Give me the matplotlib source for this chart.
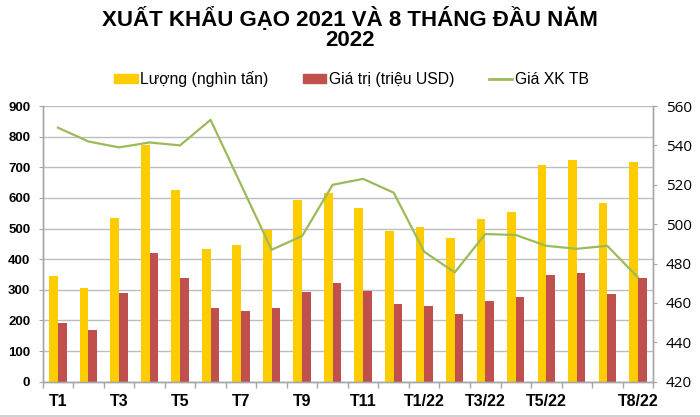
import numpy as np
import matplotlib
matplotlib.use("Agg")
import matplotlib.pyplot as plt
from matplotlib.patches import Patch
from matplotlib.lines import Line2D

# dữ liệu
months = ["T1", "T2", "T3", "T4", "T5", "T6", "T7", "T8", "T9", "T10",
          "T11", "T12", "T1/22", "T2/22", "T3/22", "T4/22", "T5/22",
          "T6/22", "T7/22", "T8/22"]
tick_labels = ["T1", "", "T3", "", "T5", "", "T7", "", "T9", "",
               "T11", "", "T1/22", "", "T3/22", "", "T5/22", "", "", "T8/22"]
volume = [345, 307, 534, 773, 626, 434, 446, 496, 593, 615,
          566, 492, 505, 469, 530, 555, 707, 725, 582, 717]
value = [190, 168, 289, 419, 337, 242, 231, 242, 293, 322,
         296, 255, 246, 222, 263, 275, 347, 354, 286, 340]
avg_price = [549, 542, 539, 541.5, 540, 553, 520, 487, 494, 520,
             523, 516, 486, 475.5, 495, 494.5, 489, 487.5, 489, 473]

YELLOW = "#FFCC00"
RED = "#C0504D"
GREEN = "#9BBB59"
GRID = "#BDBDBD"
AXIS = "#A6A6A6"

BOLD = ["Liberation Sans", "DejaVu Sans"]

fig = plt.figure(figsize=(7.0, 4.17), dpi=100)
ax = fig.add_axes([0.061, 0.0847, 0.872, 0.661])
ax2 = ax.twinx()

x = np.arange(len(months))
w = 0.285
ax.bar(x - w / 2, volume, w, color=YELLOW, zorder=2)
ax.bar(x + w / 2, value, w, color=RED, zorder=2)
ax2.plot(x, avg_price, color=GREEN, linewidth=1.6, zorder=3)

ax.set_xlim(-0.5, len(months) - 0.5)
ax.set_ylim(0, 900)
ax.set_yticks(range(0, 901, 100))
ax2.set_ylim(420, 560)
ax2.set_yticks(range(420, 561, 20))

ax.yaxis.grid(True, color=GRID, linewidth=1.0, zorder=0)
ax.set_axisbelow(True)

ax.set_xticks(x)
ax.set_xticklabels(tick_labels, fontweight="bold", fontsize=11.5, family=BOLD)
ax.set_xticks(np.arange(-0.5, len(months)), minor=True)
ax.tick_params(axis="x", which="major", length=0, pad=9)
ax.tick_params(axis="x", which="minor", length=4, color=AXIS, width=1)

for lab in ax.get_yticklabels():
    lab.set_fontweight("bold")
    lab.set_family(BOLD)
    lab.set_fontsize(9.5)
ax.tick_params(axis="y", length=3, color=AXIS, pad=6)
ax2.tick_params(axis="y", length=3, color=AXIS, pad=6, labelsize=11)
for lab in ax2.get_yticklabels():
    lab.set_family(["Open Sans", "DejaVu Sans"])

for a in (ax, ax2):
    a.spines["top"].set_visible(False)
    for s in ("left", "right", "bottom"):
        a.spines[s].set_color(AXIS)
        a.spines[s].set_linewidth(1.0)

# va="baseline" của văn bản nhiều dòng bám theo dòng cuối
fig.text(0.5, 0.890, "XUẤT KHẨU GẠO 2021 VÀ 8 THÁNG ĐẦU NĂM\n2022",
         ha="center", va="baseline", multialignment="center",
         fontsize=16, fontweight="bold", family=BOLD, linespacing=0.9)

handles = [Patch(color=YELLOW), Patch(color=RED),
           Line2D([], [], color=GREEN, linewidth=2)]
labels = ["Lượng (nghìn tấn)", "Giá trị (triệu USD)", "Giá XK TB"]
fig.legend(handles, labels, loc="center", bbox_to_anchor=(0.502, 0.81), ncol=3,
           frameon=False, prop={"family": BOLD, "size": 11.3},
           handlelength=1.5, handleheight=0.5, handletextpad=0.15,
           columnspacing=2.2)

fig.add_artist(Line2D([0, 1], [0.003, 0.003], color="#C8C8C8", linewidth=1.2,
                      transform=fig.transFigure))

fig.savefig("out.png", dpi=100)
